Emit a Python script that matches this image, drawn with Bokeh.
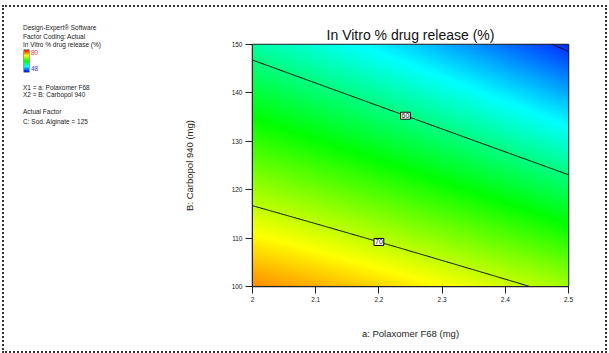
import numpy as np
from bokeh.plotting import figure
from bokeh.layouts import row
from bokeh.models import LinearColorMapper, FixedTicker, ColumnDataSource, Range1d, Div
from bokeh.core.properties import value
from bokeh.embed import file_html
from bokeh.resources import INLINE

# ---- data ----
title = "In Vitro % drug release (%)"
x_label = "a: Polaxomer F68 (mg)"
y_label = "B: Carbopol 940 (mg)"
x_ticks = [2.0, 2.1, 2.2, 2.3, 2.4, 2.5]
x_tick_labels = ["2", "2.1", "2.2", "2.3", "2.4", "2.5"]
y_ticks = [100, 110, 120, 130, 140, 150]
a_range = [2.0, 2.5]
b_range = [100, 150]
resp_low, resp_high = 48, 80
contour_levels = [50, 60, 70]
label_levels = [60, 70]
label_a = [2.242, 2.2]
# coded-model coefficients (u=(a-2.25)/0.25, v=(B-125)/25), estimated from contours
b0, bA, bB, bAB, bA2 = 63.59, -3.994, -9.055, -0.749, -0.344
info_lines = ["Design-Expert® Software", "Factor Coding: Actual", "In Vitro % drug release (%)",
              "X1 = a: Polaxomer F68", "X2 = B: Carbopol 940",
              "Actual Factor", "C: Sod. Alginate = 125"]

FONT = "Liberation Sans"
TXT = "#222222"

def model(a, b):
    u = (a - 2.25) / 0.25
    v = (b - 125) / 25
    return b0 + bA * u + bB * v + bAB * u * v + bA2 * u * u

# rainbow palette blue-cyan-green-yellow-red
stops = [(0, 0, 255), (0, 255, 255), (0, 255, 0), (255, 255, 0), (255, 0, 0)]
palette = []
for i in range(256):
    t = i / 255 * 4
    k = min(int(t), 3)
    f = t - k
    c = [int(round(stops[k][j] + (stops[k + 1][j] - stops[k][j]) * f)) for j in range(3)]
    palette.append("#%02x%02x%02x" % tuple(c))

n = 300
xs = np.linspace(a_range[0], a_range[1], n)
ys = np.linspace(b_range[0], b_range[1], n)
X, Y = np.meshgrid(xs, ys)
Z = model(X, Y)

H = 344
LW = 170
MW = 431

# ---------- left info panel (HTML text) ----------
info_y = [21, 30, 37.5, 81, 88, 105, 114.5]
spans = []
for t, yc in zip(info_lines, info_y):
    spans.append(f'<div style="position:absolute;left:19px;top:{yc - 4}px;line-height:8px;'
                 f'font-size:6.5px;white-space:nowrap;color:{TXT}">{t}</div>')
spans.append('<div style="position:absolute;left:20px;top:43px;width:5px;height:22px;'
             'background:linear-gradient(to bottom,#ff0000,#ffff00,#00ff00,#00ffff,#0000ff);'
             'box-shadow:0 0 0 0.5px #444"></div>')
spans.append(f'<div style="position:absolute;left:27px;top:42px;line-height:8px;font-size:6.5px;'
             f'color:#ff3333">{resp_high}</div>')
spans.append(f'<div style="position:absolute;left:27px;top:58px;line-height:8px;font-size:6.5px;'
             f'color:#3333ff">{resp_low}</div>')
html = (f'<div style="position:relative;width:{LW}px;height:{H}px;font-family:\'{FONT}\'">'
        + "".join(spans) + "</div>")
info = Div(text=html, width=LW, height=H, styles={"margin": "0", "padding": "0"})

# ---------- main contour plot ----------
p = figure(width=MW, height=H, output_backend="svg", toolbar_location=None,
           x_range=Range1d(*a_range), y_range=Range1d(*b_range),
           min_border_left=78, min_border_right=37, min_border_top=37, min_border_bottom=65)
p.title.text = title
p.title.align = "center"
p.title.text_font = FONT
p.title.text_font_size = "14px"
p.title.text_font_style = "normal"
p.title.text_color = "#111111"
p.title.standoff = 3
p.grid.visible = False
p.outline_line_color = "#222222"
p.outline_line_width = 1.5

mapper = LinearColorMapper(palette=palette, low=resp_low, high=resp_high)
p.image(image=[Z], x=a_range[0], y=b_range[0], dw=a_range[1] - a_range[0],
        dh=b_range[1] - b_range[0], color_mapper=mapper)
p.contour(x=xs, y=ys, z=Z, levels=contour_levels, fill_color=None,
          line_color="black", line_width=1)

lab_y = []
for L, a in zip(label_levels, label_a):
    u = (a - 2.25) / 0.25
    v = (L - b0 - bA * u - bA2 * u * u) / (bB + bAB * u)
    lab_y.append(125 + 25 * v)
src = ColumnDataSource(dict(x=label_a, y=lab_y, t=[str(l) for l in label_levels]))
p.text(x="x", y="y", text="t", source=src, text_align="center", text_baseline="middle",
       text_font=value(FONT), text_font_size="7px", text_color="#111111",
       background_fill_color="white", border_line_color="black", padding=1)

for ax in (p.xaxis[0], p.yaxis[0]):
    ax.major_tick_out = 7
    ax.major_tick_in = 0
    ax.minor_tick_line_color = None
    ax.axis_line_color = "#222222"
    ax.major_tick_line_color = "#222222"
    ax.major_label_text_font = FONT
    ax.major_label_text_font_size = "6.5px"
    ax.major_label_text_color = TXT
    ax.major_label_standoff = 3
    ax.axis_label_text_font = FONT
    ax.axis_label_text_font_size = "9.5px"
    ax.axis_label_text_font_style = "normal"
    ax.axis_label_text_color = TXT
p.xaxis.ticker = FixedTicker(ticks=x_ticks)
p.xaxis.major_label_overrides = {t: l for t, l in zip(x_ticks, x_tick_labels)}
p.yaxis.ticker = FixedTicker(ticks=y_ticks)
p.xaxis.axis_label = x_label
p.yaxis.axis_label = y_label
p.xaxis.axis_label_standoff = 23
p.yaxis.axis_label_standoff = 34

layout = row(info, p, spacing=0,
             styles={"border": "2px dotted #333333", "margin-left": "2px", "margin-top": "5px"})

open("out.html", "w").write(file_html(layout, INLINE))
